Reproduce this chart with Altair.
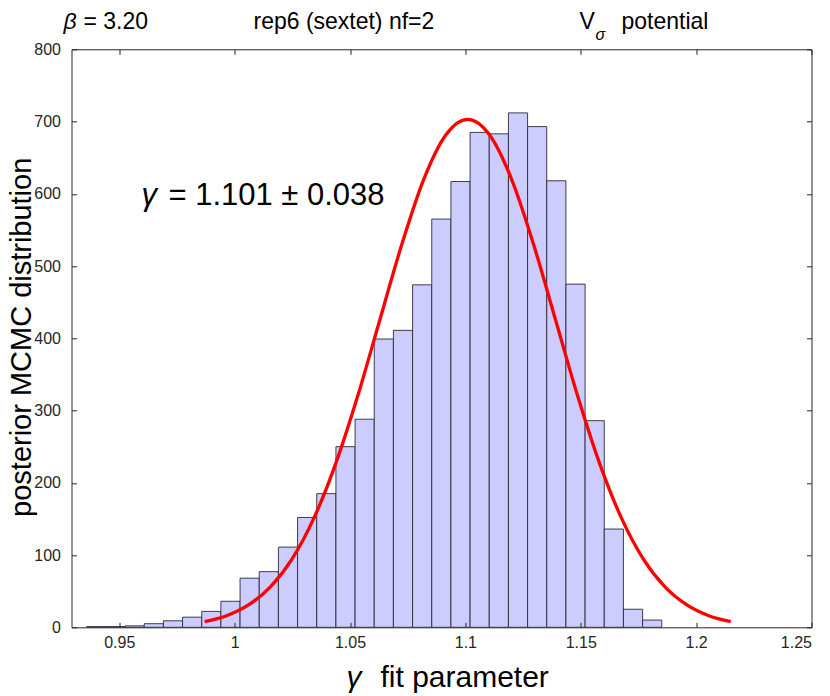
import altair as alt
import pandas as pd

# ---------------- data ----------------
bin_start = 0.9359
bin_width = 0.008307
counts = [1, 1, 2, 5, 9, 14, 22, 36, 68, 77, 111, 152, 185, 250, 288,
          399, 411, 474, 565, 617, 685, 683, 712, 693, 618, 475, 286, 136, 25, 10]

fit_x = [0.987, 0.9965, 1.006, 1.0155, 1.025, 1.0345, 1.044, 1.0535, 1.063,
         1.0725, 1.082, 1.0915, 1.101, 1.1105, 1.12, 1.1295, 1.139, 1.1485,
         1.158, 1.1675, 1.177, 1.1865, 1.196, 1.2055, 1.215]
fit_y = [7.8, 16.0, 30.9, 55.9, 95.1, 152.1, 228.3, 321.8, 426.4, 530.6, 620.4,
         681.4, 703.0, 681.4, 620.4, 530.6, 426.4, 321.8, 228.3, 152.1, 95.1,
         55.9, 30.9, 16.0, 7.8]

x_ticks = [0.95, 1.0, 1.05, 1.1, 1.15, 1.2, 1.25]
y_ticks = [0, 100, 200, 300, 400, 500, 600, 700, 800]
x_domain = [0.9293, 1.25]
y_domain = [0, 800]

bars = pd.DataFrame({
    "lo": [bin_start + i * bin_width for i in range(len(counts))],
    "hi": [bin_start + (i + 1) * bin_width for i in range(len(counts))],
    "count": counts,
    "base": [0] * len(counts),
})
fit = pd.DataFrame({"x": fit_x, "y": fit_y})
one = pd.DataFrame({"a": [0]})

FONT = "Liberation Sans"
INK = "#262626"
W, H = 740, 578

xs = alt.Scale(domain=x_domain, nice=False, zero=False)
ys = alt.Scale(domain=y_domain, nice=False)

common_axis = dict(grid=False, domain=False, ticks=True, tickSize=5, offset=-5,
                   tickColor=INK, labelColor=INK, labelFont=FONT, labelFontSize=16,
                   title=None, zindex=1)

bar_layer = alt.Chart(bars).mark_bar(
    fill="#ccccff", stroke="#2a2a38", strokeWidth=1.0, strokeOpacity=0.9
).encode(
    x=alt.X("lo:Q", scale=xs, axis=alt.Axis(orient="bottom", values=x_ticks, format="~g",
                                              labelPadding=7, **common_axis)),
    x2="hi:Q",
    y=alt.Y("count:Q", scale=ys, axis=alt.Axis(orient="left", values=y_ticks,
                                                 labelPadding=11, **common_axis)),
    y2="base:Q",
)

line_layer = alt.Chart(fit).mark_line(
    color="#ff0000", strokeWidth=3.3, interpolate="monotone"
).encode(
    x=alt.X("x:Q", scale=xs, axis=None),
    y=alt.Y("y:Q", scale=ys, axis=None),
)

ghost = alt.Chart(bars).mark_point(opacity=0).encode(
    x=alt.X("lo:Q", scale=xs, axis=alt.Axis(orient="top", values=x_ticks, labels=False,
                                              **common_axis)),
    y=alt.Y("count:Q", scale=ys, axis=alt.Axis(orient="right", values=y_ticks, labels=False,
                                                 **common_axis)),
)


def txt(s, x, y, size, italic=False, angle=0, align="left", baseline="alphabetic"):
    kw = dict(font=FONT, fontSize=size, color="black", align=align, baseline=baseline)
    if italic:
        kw["fontStyle"] = "italic"
    if angle:
        kw["angle"] = angle
    return alt.Chart(one).mark_text(**kw).encode(
        x=alt.value(x), y=alt.value(y), text=alt.value(s))


texts = [
    # title line
    txt("\u03b2", -8, -20, 23, italic=True),
    txt("= 3.20", 12, -20, 23),
    txt("rep6 (sextet)  nf=2", 182, -20, 23),
    txt("V", 508, -20, 23),
    txt("\u03c3", 524, -9, 16, italic=True),
    txt("potential", 550, -20, 23),
    # annotation
    txt("\u03b3", 70, 156, 31, italic=True),
    txt("= 1.101 \u00b1 0.038", 97, 156, 31),
    # axis titles
    txt("\u03b3", 275, 638, 30, italic=True),
    txt("fit parameter", 309, 638, 30),
    txt("posterior MCMC distribution", -40.5, 288, 29, angle=270, align="center",
        baseline="alphabetic"),
]

chart = alt.layer(bar_layer, line_layer, ghost, *texts).resolve_axis(
    x="independent", y="independent"
).properties(
    width=W, height=H,
    autosize=alt.AutoSizeParams(type="none"),
    padding={"left": 63.5, "top": 41.3, "right": 10, "bottom": 68},
    background="white",
).configure_view(stroke=INK, strokeWidth=1)

chart.save("out.html", embed_options={"renderer": "svg", "actions": False})
